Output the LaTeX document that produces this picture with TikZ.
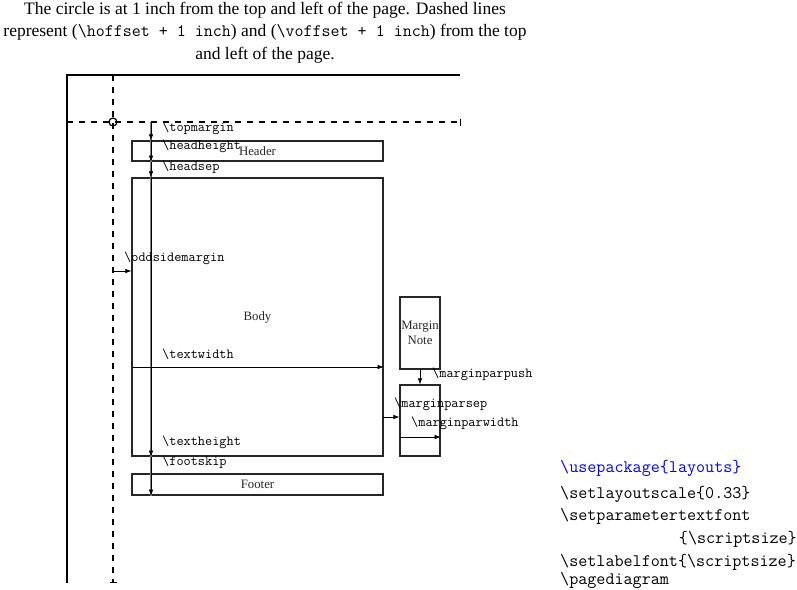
\documentclass[tikz,border=0pt]{standalone}
\usepackage{fontspec}
\setmainfont{Liberation Serif}
\usepackage{xcolor}
\usetikzlibrary{positioning,arrows.meta,calc}

\begin{document}
\begin{tikzpicture}[
    x=1pt, y=-1pt,
    every node/.style={inner sep=0pt},
    frame/.style={line width=2pt, black},
    guide/.style={line width=1.5pt, dash pattern=on 6pt off 6pt, -{Bar[width=7pt,line width=1.5pt]}},
    part/.style={draw, line width=1.3pt, black!85, font=\fontsize{12.8}{14.5}\selectfont, align=center},
    dim/.style={line width=0.6pt, -{Latex[length=6pt,width=4.5pt]}},
    stack/.style={line width=1.6pt, black!50},
    param/.style={anchor=west, font=\fontsize{13.9}{15}\ttfamily},
    code/.style={anchor=west, font=\fontsize{17.6}{20}\ttfamily}
]
\useasboundingbox (0,0) rectangle (797,589);

% Caption
\node[align=center, font=\fontsize{17.5}{22.5}\selectfont] (caption) at (265,32.5)
  {The circle is at 1 inch from the top and left of the page. Dashed lines\\
   represent (\texttt{\textbackslash hoffset + 1 inch}) and (\texttt{\textbackslash voffset + 1 inch}) from the top\\
   and left of the page.};

% Page edges
\coordinate (pagetl) at (67,75);
\coordinate (pagebl) at (67,583);
\coordinate (pagetr) at (460,75);
\draw[frame] (pagebl) -- (pagetl) -- (pagetr);

% Offset lines and the origin circle
\coordinate (hstart) at (67,122);
\coordinate (hend) at (461,122);
\coordinate (vstart) at (113,75);
\coordinate (vend) at (113,583);
\draw[guide] (hstart) -- (hend);
\draw[guide] (vstart) -- (vend);
\node[draw, circle, line width=1.2pt, minimum size=8pt] (origin) at (113,122) {};

% Page parts
\node[part, minimum width=251pt, minimum height=20pt] (header) at (257.5,151) {Header};
\node[part, minimum width=251pt, minimum height=278pt] (body) at (257.5,317) {Body};
\node[part, minimum width=251pt, minimum height=21pt] (footer) at (257.5,484.5) {Footer};
\node[part, minimum width=40pt, minimum height=72pt] (note) at (420,333) {Margin\\Note};
\node[part, minimum width=40pt, minimum height=71pt] (note2) at (420,420.5) {};

% Vertical stack of dimensions
\coordinate (v0) at (151,122);
\draw[stack] (v0) -- (v0 |- footer.south);
\draw[dim] (v0) -- (v0 |- header.north);
\draw[dim] (v0 |- header.north) -- (v0 |- header.south);
\draw[dim] (v0 |- header.south) -- (v0 |- body.north);
\draw[dim] (v0 |- body.north) -- (v0 |- body.south);
\draw[dim] (v0 |- body.south) -- (v0 |- footer.south);

% Horizontal dimensions
\coordinate (side) at (113,271);
\draw[dim] (side) -- (side -| body.west);
\coordinate (tw) at (132,367);
\draw[dim] (tw) -- (tw -| body.east);
\coordinate (msep) at (383,417);
\draw[dim] (msep) -- (msep -| note2.west);
\coordinate (mw) at (400,437);
\draw[dim] (mw) -- (mw -| note2.east);
\draw[dim] (note.south) -- (note2.north);

% Parameter labels
\node[param] (ltop) at (162,128) {\textbackslash topmargin};
\node[param] (lhh) at (162,146) {\textbackslash headheight};
\node[param] (lhs) at (162,167) {\textbackslash headsep};
\node[param] (lodd) at (124,258) {\textbackslash oddsidemargin};
\node[param] (ltw) at (162,354) {\textbackslash textwidth};
\node[param] (lth) at (162,442) {\textbackslash textheight};
\node[param] (lfs) at (162,462) {\textbackslash footskip};
\node[param] (lpush) at (432,374) {\textbackslash marginparpush};
\node[param] (lsep) at (394,404) {\textbackslash marginparsep};
\node[param] (lmw) at (411,423) {\textbackslash marginparwidth};

% Code listing
\node[code, text=blue] (c1) at (560,468) {\textbackslash usepackage\{layouts\}};
\node[code] (c2) at (560,494) {\textbackslash setlayoutscale\{0.33\}};
\node[code] (c3) at (560,516) {\textbackslash setparametertextfont};
\node[code, anchor=east] (c4) at (797,539) {\{\textbackslash scriptsize\}};
\node[code] (c5) at (560,562) {\textbackslash setlabelfont\{\textbackslash scriptsize\}};
\node[code] (c6) at (560,580) {\textbackslash pagediagram};

\end{tikzpicture}
\end{document}
